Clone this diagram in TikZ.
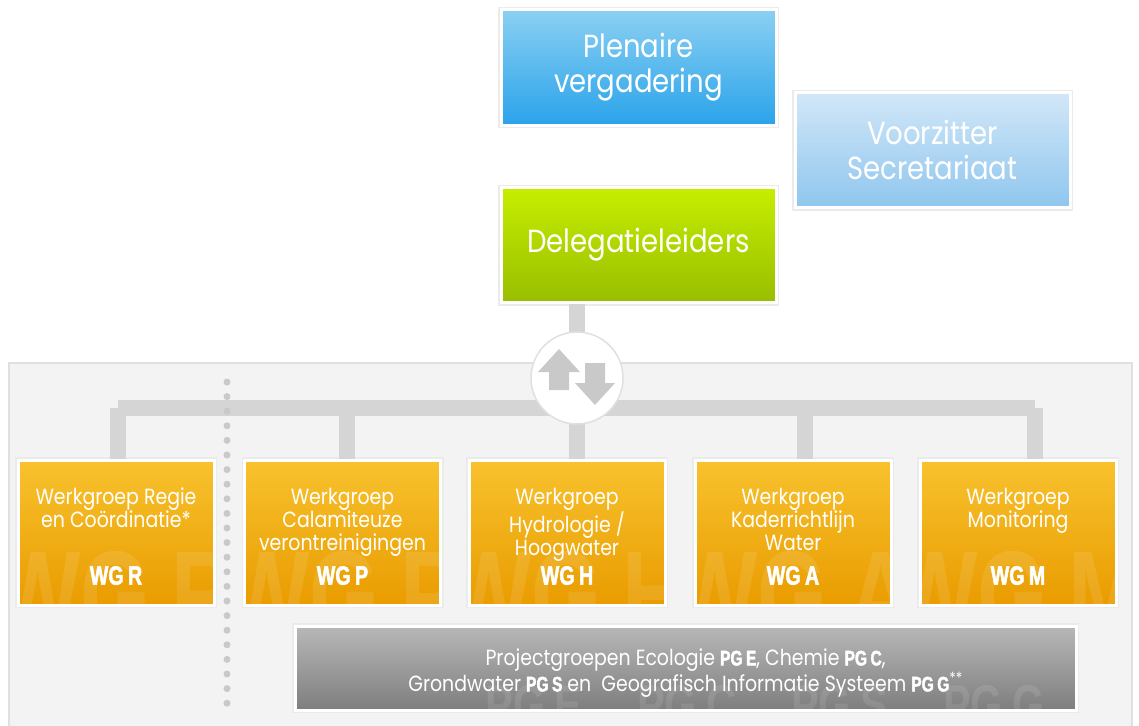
\documentclass[tikz,border=0pt]{standalone}
\usepackage{fontspec}
\newfontfamily\gothic[FakeStretch=0.86]{Poppins}
\newfontfamily\impact[FakeStretch=0.74,FakeBold=2]{Liberation Sans Bold}
\newfontfamily\impactmark[FakeStretch=0.74]{Liberation Sans Bold}
\definecolor{plenTop}{HTML}{8AD0F2}
\definecolor{plenBot}{HTML}{2BA3EA}
\definecolor{vzTop}{HTML}{D2E7F8}
\definecolor{vzBot}{HTML}{8FC6EE}
\definecolor{delTop}{HTML}{C6EE00}
\definecolor{delBot}{HTML}{98BE00}
\definecolor{wgTop}{HTML}{F8C22E}
\definecolor{wgMid}{HTML}{F3AE12}
\definecolor{wgBot}{HTML}{E99C00}
\definecolor{pgTop}{HTML}{B8B8B8}
\definecolor{pgBot}{HTML}{7E7E7E}
\definecolor{panelFill}{HTML}{F3F3F3}
\definecolor{panelLine}{HTML}{E0E0E0}
\definecolor{barGray}{HTML}{D5D5D5}
\definecolor{arrowGray}{HTML}{C9C9C9}
\newcommand{\pgb}[1]{{\impact\fontsize{21}{21}\selectfont #1}}

\begin{document}
\begin{tikzpicture}[x=1pt, y=-1pt,
      box/.style = {shape=rectangle, draw=white, line width=3pt,
        inner sep=0pt, align=center, text=white,
        preaction={draw=black!8, line width=6pt}},
      topbox/.style = {box, minimum width=275pt, minimum height=115pt,
        font=\gothic\fontsize{32}{35}\selectfont},
      wg/.style = {box, minimum width=196pt, minimum height=145pt,
        top color=wgTop, middle color=wgMid, bottom color=wgBot},
      wgtext/.style = {align=center, text=white, inner sep=0pt,
        font=\gothic\fontsize{22}{23}\selectfont},
      wglabel/.style = {text=white, inner sep=0pt,
        font=\impact\fontsize{26.5}{26.5}\selectfont},
      wgmark/.style = {text=white, text opacity=0.1, inner sep=0pt, anchor=base,
        font=\impactmark\fontsize{122}{122}\selectfont},
      bar/.style = {draw=barGray, line width=16pt}]
  \useasboundingbox (0,0) rectangle (1139,725);

  % grey panel behind the working groups
  \filldraw[fill=panelFill, draw=panelLine, line width=1.5pt] (9,363) rectangle (1132,740);

  % top of the organisation
  \node[topbox, top color=plenTop, bottom color=plenBot] (plen) at (638.5,67.5) {Plenaire\\vergadering};
  \node[topbox, top color=vzTop, bottom color=vzBot] (vz) at (932.5,150) {Voorzitter\\Secretariaat};
  \node[topbox, top color=delTop, bottom color=delBot] (deleg) at (638.5,245) {Delegatieleiders};

  \coordinate (hubc) at (577,378);
  \coordinate (barL) at (118,408);
  \coordinate (barR) at (1035,408);
  \draw[bar] (barL) -- (barR);

  % working groups
  \foreach \id/\cx/\lx/\body in {R/116/118/{Werkgroep Regie\\en Coördinatie*},
      P/342.5/347/{Werkgroep\\Calamiteuze\\verontreinigingen},
      H/567/577/{Werkgroep\\Hydrologie /\\Hoogwater},
      A/793/805/{Werkgroep\\Kaderrichtlijn\\Water},
      M/1018/1035/{Werkgroep\\Monitoring}} {
    \node[wg] (wg\id) at (\cx,532.5) {};
    \begin{scope}
      \clip (wg\id.south west) rectangle (wg\id.north east);
      \node[wgmark] at (\cx,636) {WG\,\id};
    \end{scope}
    \node[wgtext, anchor=north] (wgt\id) at (\cx,488) {\body};
    \node[wglabel] (wgl\id) at (\cx,575.5) {WG\,\id};
    \coordinate (c\id) at (\lx,408);
    \draw[bar] (c\id) -- (c\id |- wg\id.north);
  }

  \draw[bar] (hubc |- deleg.south) -- (hubc |- wgH.north);

  % dotted divider
  \draw[draw=arrowGray, line width=7pt, line cap=round, dash pattern=on 0pt off 14.6pt]
    (227,382) -- (227,714);

  % exchange symbol
  \node[circle, fill=white, draw=black!12, line width=1.5pt, minimum size=92pt] (hub) at (hubc) {};
  \fill[arrowGray, shift={(hub)}] (-18,-29) -- (3,-6) -- (-8,-6) -- (-8,12) -- (-28,12)
    -- (-28,-6) -- (-39,-6) -- cycle;
  \fill[arrowGray, shift={(hub)}] (8,-15) -- (28,-15) -- (28,5) -- (38,5) -- (18,27)
    -- (-2,5) -- (8,5) -- cycle;

  % project groups
  \node[box, minimum width=781pt, minimum height=84pt, top color=pgTop, bottom color=pgBot] (pg) at (685.5,668) {};
  \begin{scope}
    \clip (pg.south west) rectangle (pg.north east);
    \node[text=white, text opacity=0.1, anchor=base, inner sep=0pt,
      font=\impactmark\fontsize{56}{56}\selectfont] at (765,724)
      {PG\,E\hspace{55pt}PG\,C\hspace{55pt}PG\,S\hspace{55pt}PG\,G};
  \end{scope}
  \node[wgtext, font=\gothic\fontsize{22}{26}\selectfont] (pgt) at (685.5,673)
    {Projectgroepen Ecologie \pgb{PG\,E}, Chemie \pgb{PG\,C},\\
     Grondwater \pgb{PG\,S} en\ \ Geografisch Informatie Systeem \pgb{PG\,G}\textsuperscript{**}};
\end{tikzpicture}
\end{document}
